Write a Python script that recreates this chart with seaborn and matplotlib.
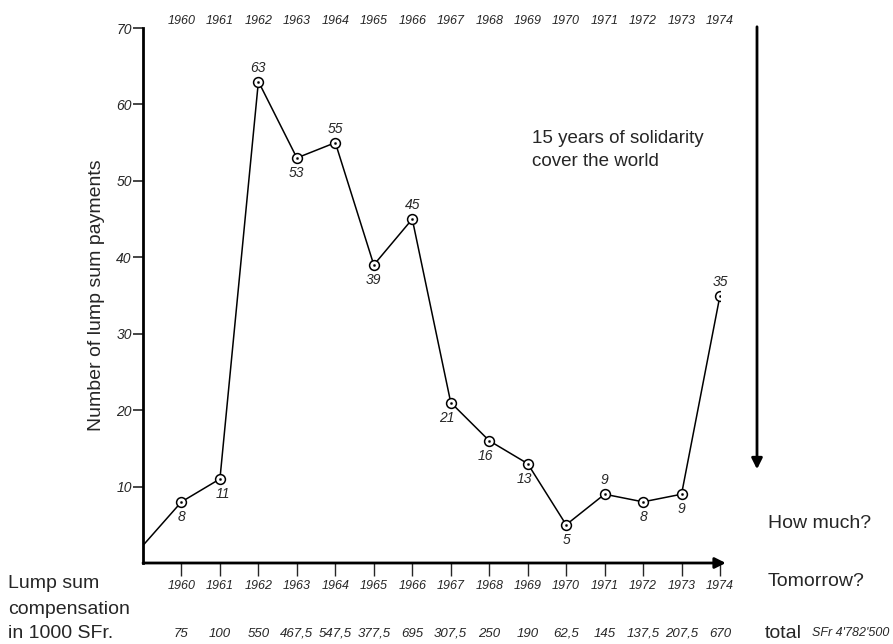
import numpy as np
import pandas as pd
import matplotlib
matplotlib.use('Agg')
import matplotlib.pyplot as plt
import seaborn as sns

# data
years = list(range(1960, 1975))
payments = [8, 11, 63, 53, 55, 39, 45, 21, 16, 13, 5, 9, 8, 9, 35]
compensation = ['75', '100', '550', '467,5', '547,5', '377,5', '695', '307,5',
                '250', '190', '62,5', '145', '137,5', '207,5', '670']
lead_in = (1959, 2.3)   # where the line leaves the y axis
total_text = "4'782'500"

# label placement of the point values (offset in points)
label_off = [(0, -11), (2, -11), (0, 10), (0, -11), (0, 10), (0, -11), (0, 10), (-3, -11),
             (-3, -11), (-2, -11), (0, -11), (0, 10), (0, -11), (0, -11), (0, 10)]

sns.set_style('white')
plt.rcParams['font.family'] = ['Liberation Sans', 'DejaVu Sans']

df = pd.DataFrame({'year': years, 'payments': payments})
lead = pd.DataFrame({'year': [lead_in[0], years[0]], 'payments': [lead_in[1], payments[0]]})

fig = plt.figure(figsize=(8.93, 6.44), dpi=100)
ax = fig.add_axes([143 / 893, 81 / 644, 577 / 893, 535 / 644])

sns.lineplot(x='year', y='payments', data=lead, ax=ax, color='black', lw=1.1)
sns.lineplot(x='year', y='payments', data=df, ax=ax, color='black', lw=1.1)
sns.scatterplot(x='year', y='payments', data=df, ax=ax, s=50, marker='o',
                facecolor='white', edgecolor='black', linewidth=1.1, zorder=3)
sns.scatterplot(x='year', y='payments', data=df, ax=ax, s=3, color='black',
                edgecolor='black', zorder=4)

for yr, v, off in zip(years, payments, label_off):
    ax.annotate(str(v), (yr, v), xytext=off, textcoords='offset points',
                ha='center', va='center', fontsize=10, style='italic')

ax.set_xlim(1959, 1974)
ax.set_ylim(0, 70)
for s in ['top', 'right', 'bottom']:
    ax.spines[s].set_visible(False)
ax.spines['left'].set_linewidth(2)
ax.spines['left'].set_color('black')

ax.set_yticks(range(10, 71, 10))
ax.set_yticklabels([str(t) for t in range(10, 71, 10)], style='italic', fontsize=10)
ax.set_xticks(years)
ax.set_xticklabels([str(y) for y in years], style='italic', fontsize=9)
ax.tick_params(axis='y', direction='out', length=7, width=1.2, left=True, pad=1)
ax.tick_params(axis='x', direction='out', length=9, width=1.0, bottom=True, pad=3)
ax.set_xlabel('')
ax.set_ylabel('Number of lump sum payments', fontsize=14, labelpad=8)

# x axis with arrow head
ax.annotate('', xy=(1974.15, 0), xytext=(1959, 0), xycoords='data',
            arrowprops=dict(arrowstyle='-|>', color='black', lw=2,
                            mutation_scale=16, shrinkA=0, shrinkB=0),
            annotation_clip=False)

# years along the top
for yr in years:
    ax.annotate(str(yr), (yr, 70), xytext=(0, 5), textcoords='offset points',
                ha='center', va='center', fontsize=9, style='italic',
                annotation_clip=False)

# compensation row
for yr, c in zip(years, compensation):
    ax.annotate(c, (yr, 0), xytext=(0, -51), textcoords='offset points',
                ha='center', va='center', fontsize=9.5, style='italic',
                annotation_clip=False)

ax.text(1969.1, 54, '15 years of solidarity\ncover the world', fontsize=13.5,
        ha='left', va='center', linespacing=1.45)

# right hand arrow
fig.add_artist(matplotlib.patches.FancyArrowPatch(
    (757 / 893, 1 - 24 / 644), (757 / 893, 1 - 472 / 644),
    transform=fig.transFigure, arrowstyle='-|>', mutation_scale=16,
    color='black', lw=2))

fig.text(768 / 893, 1 - 524 / 644, 'How much?', fontsize=14, va='center')
fig.text(768 / 893, 1 - 582 / 644, 'Tomorrow?', fontsize=14, va='center')
fig.text(765 / 893, 1 - 634 / 644, 'total', fontsize=14, va='center')
fig.text(812 / 893, 1 - 633 / 644, 'SFr ' + total_text, fontsize=9,
         style='italic', va='center')

fig.text(8 / 893, 1 - 583 / 644, 'Lump sum', fontsize=14, va='center')
fig.text(8 / 893, 1 - 609 / 644, 'compensation', fontsize=14, va='center')
fig.text(8 / 893, 1 - 634 / 644, 'in 1000 SFr.', fontsize=14, va='center')

fig.savefig('out.png', dpi=100, facecolor='white')
